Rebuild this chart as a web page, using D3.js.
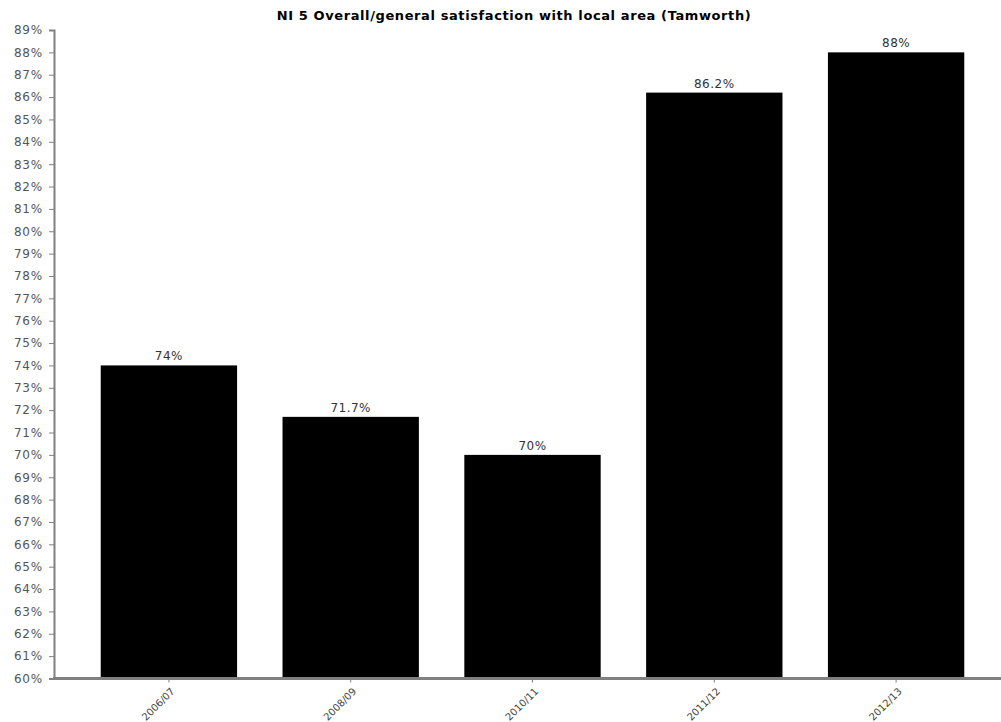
<!DOCTYPE html>
<html><head><meta charset="utf-8">
<script src="https://cdn.jsdelivr.net/npm/d3@7"></script>
<style>body{margin:0;background:#fff}svg{display:block}</style>
</head><body><svg id="c" width="1001" height="722"></svg>
<script>
const title = "NI 5 Overall/general satisfaction with local area (Tamworth)";
const categories = ["2006/07", "2008/09", "2010/11", "2011/12", "2012/13"];
const values = [74, 71.7, 70, 86.2, 88];
const valueLabels = ["74%", "71.7%", "70%", "86.2%", "88%"];
const yTicks = d3.range(60, 90, 1);

const svg = d3.select("#c");
const x = d3.scaleBand().domain(categories).range([78, 987]).paddingInner(0.25).paddingOuter(0.125);
const y = d3.scaleLinear().domain([60, 89]).range([678.5, 30]);

svg.append("text").attr("x", 514).attr("y", 20).attr("text-anchor", "middle")
  .attr("font-family", "DejaVu Sans, Verdana, sans-serif").attr("font-weight", "bold")
  .attr("font-size", 13).attr("letter-spacing", 0.6).attr("fill", "#000").text(title);

svg.append("g").selectAll("rect").data(values).join("rect")
  .attr("x", (d, i) => x(categories[i])).attr("width", x.bandwidth())
  .attr("y", d => y(d)).attr("height", d => y(60) - y(d)).attr("fill", "#000");

svg.append("g").selectAll("text").data(values).join("text")
  .attr("x", (d, i) => x(categories[i]) + x.bandwidth() / 2).attr("y", d => y(d) - 5)
  .attr("text-anchor", "middle").attr("font-family", "DejaVu Sans, Verdana, sans-serif")
  .attr("font-size", 12).attr("letter-spacing", 0.5).attr("fill", "#333").text((d, i) => valueLabels[i]);

const yAxis = svg.append("g").attr("transform", "translate(54,0)")
  .call(d3.axisLeft(y).tickValues(yTicks).tickFormat(d => d + "%").tickSize(5).tickPadding(6));
yAxis.select(".domain").attr("stroke", "#808080").attr("stroke-width", 2);
yAxis.selectAll(".tick line").attr("stroke", "#808080");
yAxis.selectAll(".tick text").attr("font-family", "DejaVu Sans, Verdana, sans-serif")
  .attr("font-size", 12).attr("letter-spacing", 0.8).attr("fill", "#555");

const xAxis = svg.append("g").attr("transform", "translate(0,678.5)")
  .call(d3.axisBottom(x).tickSize(4).tickSizeOuter(0));
xAxis.select(".domain").attr("d", "M53,0H1001").attr("stroke", "#808080").attr("stroke-width", 3);
xAxis.selectAll(".tick line").attr("stroke", "#808080");
xAxis.selectAll(".tick text").attr("font-family", "DejaVu Sans, Verdana, sans-serif")
  .attr("font-size", 10).attr("fill", "#444")
  .attr("text-anchor", "end").attr("transform", "translate(-1,6) rotate(-45)").attr("dy", "0.35em");
</script></body></html>
